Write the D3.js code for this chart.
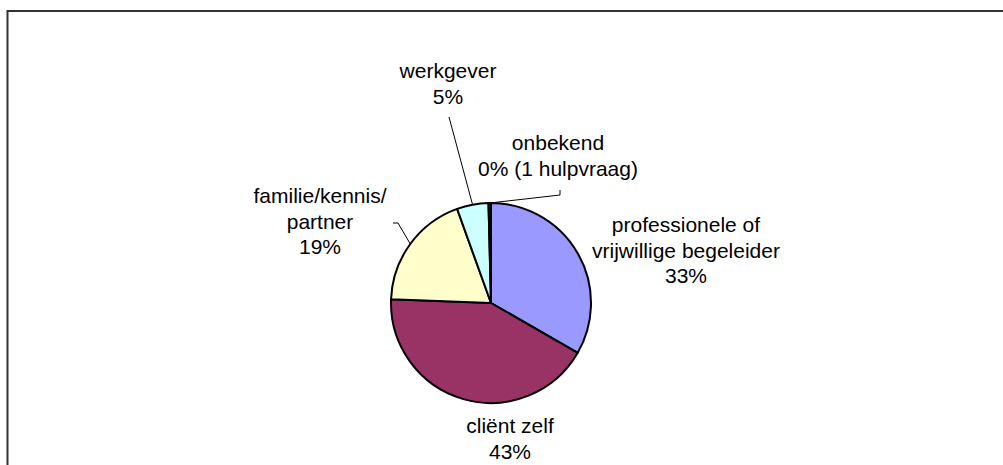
<!DOCTYPE html>
<html>
<head>
<meta charset="utf-8">
<script src="https://cdn.jsdelivr.net/npm/d3@7"></script>
<style>
  body { margin: 0; background: #fff; }
  text { font-family: "Liberation Sans", Arial, sans-serif; font-size: 21px; fill: #000; }
</style>
</head>
<body>
<script>
// slices, clockwise from 12 o'clock
const categories = ["professionele of\nvrijwillige begeleider", "cliënt zelf", "familie/kennis/\npartner", "werkgever", "onbekend"];
const values = [33.3, 42.3, 18.9, 5.1, 0.4];
const percentLabels = ["33%", "43%", "19%", "5%", "0% (1 hulpvraag)"];
const colors = ["#9999ff", "#993366", "#ffffcc", "#ccffff", "#660066"];

const width = 1003, height = 465;
const cx = 491, cy = 303, radius = 100;
const lineHeight = 25.5;

// label block (centre x, first baseline) relative to pie centre, plus leader elbows
const labelPos = [
  {x: 195, y: -71},
  {x: 19, y: 130},
  {x: -171, y: -100, leader: [[-93, -80], [-98, -80]]},
  {x: -43, y: -225, leader: [[-42, -186]]},
  {x: 67, y: -153, leader: [[69, -108], [69, -113]]}
];

const svg = d3.select("body").append("svg")
    .attr("width", width)
    .attr("height", height);

// chart area border (runs off the right and bottom edges)
svg.append("rect")
    .attr("x", 7.5)
    .attr("y", 11)
    .attr("width", 1100)
    .attr("height", 600)
    .attr("fill", "none")
    .attr("stroke", "#333")
    .attr("stroke-width", 2);

const pie = d3.pie().sort(null).value(d => d);
const arcs = pie(values);
const arc = d3.arc().innerRadius(0).outerRadius(radius);

const g = svg.append("g")
    .attr("transform", `translate(${cx},${cy})`);

g.selectAll("path.slice")
  .data(arcs)
  .join("path")
    .attr("class", "slice")
    .attr("d", arc)
    .attr("fill", (d, i) => colors[i])
    .attr("stroke", "#000")
    .attr("stroke-width", 2)
    .attr("stroke-linejoin", "round");

// leader lines start on the rim at the slice's middle angle
const line = d3.line();
g.selectAll("path.leader")
  .data(arcs.filter((d, i) => labelPos[i].leader))
  .join("path")
    .attr("class", "leader")
    .attr("fill", "none")
    .attr("stroke", "#000")
    .attr("stroke-width", 1)
    .attr("d", d => {
      const a = (d.startAngle + d.endAngle) / 2;
      const start = [radius * Math.sin(a), -radius * Math.cos(a)];
      return line([start, ...labelPos[d.index].leader]);
    });

const labels = g.selectAll("text.label")
  .data(arcs)
  .join("text")
    .attr("class", "label")
    .attr("text-anchor", "middle")
    .attr("x", d => labelPos[d.index].x)
    .attr("y", d => labelPos[d.index].y);

labels.selectAll("tspan")
  .data(d => categories[d.index].split("\n").concat(percentLabels[d.index]).map(t => ({t, x: labelPos[d.index].x})))
  .join("tspan")
    .attr("x", d => d.x)
    .attr("dy", (d, i) => i === 0 ? 0 : lineHeight)
    .text(d => d.t);
</script>
</body>
</html>
